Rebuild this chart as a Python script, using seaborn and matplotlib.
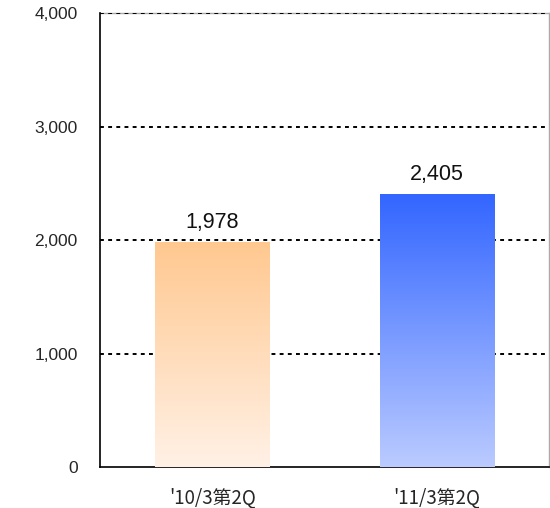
import numpy as np
import pandas as pd
import matplotlib
matplotlib.use("Agg")
import matplotlib.pyplot as plt
import seaborn as sns
from matplotlib.colors import LinearSegmentedColormap

# data
periods = ["'10/3第2Q", "'11/3第2Q"]
values = [1978, 2405]
top_colors = ["#FFC890", "#3366FF"]
bottom_colors = ["#FFF1E6", "#BBCBFF"]
yticks = [0, 1000, 2000, 3000, 4000]

sns.set_style("white")
plt.rcParams['font.family'] = ['Noto Sans CJK JP', 'DejaVu Sans']
latin = ['Liberation Sans', 'DejaVu Sans']

df = pd.DataFrame({"period": periods, "value": values})

fig = plt.figure(figsize=(5.5, 5.08), dpi=100)
ax = fig.add_axes([100 / 550, 41 / 508, 449 / 550, 454 / 508])

sns.barplot(data=df, x="period", y="value", ax=ax, width=0.51,
            color="white", edgecolor="none", zorder=2)

ax.set_ylim(0, 4000)
ax.set_xlim(-0.5, 1.5)

# gradient fill clipped to each bar
for patch, c_top, c_bot in zip(ax.patches, top_colors, bottom_colors):
    x0, y0 = patch.get_x(), patch.get_y()
    w, h = patch.get_width(), patch.get_height()
    cmap = LinearSegmentedColormap.from_list("g", [c_bot, c_top])
    grad = np.linspace(0, 1, 256).reshape(-1, 1)
    im = ax.imshow(grad, cmap=cmap, aspect="auto", origin="lower",
                   extent=[x0, x0 + w, y0, y0 + h], zorder=3)
    im.set_clip_path(patch)
    ax.text(x0 + w / 2, y0 + h + 80, f"{int(h):,}", ha="center", va="bottom",
            fontsize=15.5, color="#111111", family=latin)

ax.set_xlim(-0.5, 1.5)
ax.set_ylim(0, 4000)

# dotted grid
for y in yticks[1:]:
    ax.axhline(y, color="black", linestyle=(0, (2, 2.2)), linewidth=1.4, zorder=1)

ax.set_yticks(yticks)
ax.set_yticklabels([f"{v:,}" for v in yticks], fontsize=12.5, family=latin)
ax.set_xticks([0.5], minor=False)
ax.set_xticklabels([""])
ax.set_xticks([0, 1], labels=periods, minor=True, fontsize=13.5)
ax.tick_params(axis="x", which="major", direction="in", length=5, width=1, color="black")
ax.tick_params(axis="x", which="minor", length=0, pad=15)
ax.tick_params(axis="y", direction="in", length=4, width=1, color="black", pad=16)
ax.set_xlabel("")
ax.set_ylabel("")

for side in ["left", "bottom"]:
    ax.spines[side].set_color("black")
    ax.spines[side].set_linewidth(1.2)
for side in ["top", "right"]:
    ax.spines[side].set_color("#AAAAAA")
    ax.spines[side].set_linewidth(1)
    ax.spines[side].set_zorder(0.5)

fig.savefig("out.png", dpi=100, facecolor="white")
